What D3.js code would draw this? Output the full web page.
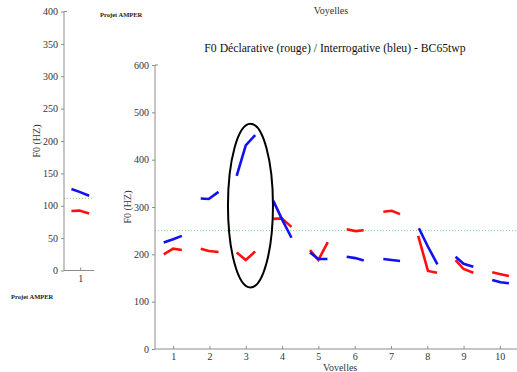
<!DOCTYPE html>
<html>
<head>
<meta charset="utf-8">
<script src="https://cdn.jsdelivr.net/npm/d3@7"></script>
<style>
  html, body { margin: 0; padding: 0; background: #fff; }
  svg { display: block; }
  svg text { font-family: "Liberation Serif", "Times New Roman", "DejaVu Serif", serif; }
</style>
</head>
<body>
<div id="chart"></div>
<script>
// F0 per vowel: each segment is [position, Hz]
const vowelTicks = [1, 2, 3, 4, 5, 6, 7, 8, 9, 10];
const mainYTicks = [0, 100, 200, 300, 400, 500, 600];

const declarative = [
  [[0.74, 200], [1.0, 212], [1.24, 209]],
  [[1.76, 212], [1.98, 207], [2.25, 205]],
  [[2.75, 204], [3.0, 188], [3.26, 206]],
  [[3.76, 275], [3.99, 276], [4.26, 258]],
  [[4.77, 209], [5.0, 188], [5.26, 226]],
  [[5.78, 253], [6.02, 249], [6.25, 251]],
  [[6.79, 290], [7.02, 292], [7.25, 285]],
  [[7.75, 239], [8.02, 165], [8.27, 161]],
  [[8.78, 188], [9.0, 169], [9.27, 161]],
  [[9.79, 162], [10.02, 158], [10.25, 154]],
];

const interrogative = [
  [[0.74, 225], [1.0, 232], [1.24, 239]],
  [[1.76, 318], [1.98, 317], [2.25, 332]],
  [[2.75, 366], [3.0, 430], [3.26, 452]],
  [[3.76, 313], [4.0, 274], [4.26, 235]],
  [[4.77, 204], [5.0, 190], [5.25, 190]],
  [[5.78, 195], [6.02, 192], [6.25, 187]],
  [[6.79, 190], [7.02, 188], [7.25, 186]],
  [[7.77, 255], [8.02, 216], [8.28, 179]],
  [[8.78, 195], [9.0, 180], [9.27, 174]],
  [[9.79, 146], [10.02, 141], [10.25, 139]],
];

const mainReference = 250;
// highlighted vowel: centre [position, Hz], radii [positions, Hz]
const highlight = { cx: 3.13, cy: 303, rx: 0.62, ry: 173 };

// small panel (speaker reference)
const sideTicksX = [1];
const sideYTicks = [0, 50, 100, 150, 200, 250, 300, 350, 400];
const sideDeclarative = [[0.73, 92], [0.98, 92.5], [1.28, 88]];
const sideInterrogative = [[0.73, 126], [1.0, 121], [1.28, 115.5]];
const sideReference = 111.5;

const W = 517, H = 372;
const serif = '"Liberation Serif", "Times New Roman", "DejaVu Serif", serif';
const axisColor = '#8c8c8c';
const labelColor = '#333';
const red = '#ff1010';
const blue = '#1010f0';
const green = '#7ad97a';

const svg = d3.select('#chart').append('svg')
  .attr('width', W).attr('height', H)
  .attr('viewBox', `0 0 ${W} ${H}`)
  .attr('font-family', serif);

const line = (x, y) => d3.line().x((d) => x(d[0])).y((d) => y(d[1]));

function drawPanel({ x, y, xTicks, yTicks, red: redSegs, blue: blueSegs, ref, labelX }) {
  const [x0, x1] = x.range();
  const [y0, y1] = y.range();

  // reference line
  svg.append('line')
    .attr('x1', x0).attr('x2', x1)
    .attr('y1', y(ref)).attr('y2', y(ref))
    .attr('stroke', green).attr('stroke-width', 1)
    .attr('stroke-dasharray', '1,2');

  // y axis
  const yAxis = svg.append('g')
    .attr('transform', `translate(${x0},0)`)
    .call(d3.axisLeft(y).tickValues(yTicks).tickSize(3).tickPadding(3).tickFormat(d3.format('d')));
  yAxis.attr('font-family', serif);
  yAxis.select('.domain').attr('stroke', axisColor).attr('d', `M0,${y0}V${y1}H3`);
  yAxis.selectAll('line').attr('stroke', axisColor);
  yAxis.selectAll('text').attr('fill', labelColor).attr('font-size', 10);

  // x axis (ticks pointing inward)
  const xAxis = svg.append('g')
    .attr('transform', `translate(0,${y0})`)
    .call(d3.axisBottom(x).tickValues(xTicks).tickSize(-3).tickPadding(4).tickFormat(d3.format('d')));
  xAxis.attr('font-family', serif);
  xAxis.select('.domain').attr('stroke', axisColor).attr('d', `M${x0},0H${x1}`);
  xAxis.selectAll('line').attr('stroke', axisColor);
  xAxis.selectAll('text').attr('fill', labelColor).attr('font-size', 10);

  svg.append('text')
    .attr('transform', `translate(${labelX},${(y0 + y1) / 2}) rotate(-90)`)
    .attr('text-anchor', 'middle')
    .attr('fill', labelColor)
    .attr('font-size', 10)
    .text('F0 (HZ)');

  const gen = line(x, y);
  redSegs.forEach((seg) => {
    svg.append('path').datum(seg)
      .attr('d', gen).attr('fill', 'none')
      .attr('stroke', red).attr('stroke-width', 2.6);
  });
  blueSegs.forEach((seg) => {
    svg.append('path').datum(seg)
      .attr('d', gen).attr('fill', 'none')
      .attr('stroke', blue).attr('stroke-width', 2.6);
  });
}

/* Side panel */
const xSide = d3.scaleLinear().domain([0.5, 1.43]).range([64, 94]);
const ySide = d3.scaleLinear().domain([0, 400]).range([270.5, 11.5]);
drawPanel({
  x: xSide, y: ySide, xTicks: sideTicksX, yTicks: sideYTicks,
  red: [sideDeclarative], blue: [sideInterrogative], ref: sideReference, labelX: 40,
});

/* Main panel */
const xMain = d3.scaleLinear().domain([0.5, 10.5]).range([155, 518]);
const yMain = d3.scaleLinear().domain([0, 600]).range([349, 65]);
drawPanel({
  x: xMain, y: yMain, xTicks: vowelTicks, yTicks: mainYTicks,
  red: declarative, blue: interrogative, ref: mainReference, labelX: 131,
});

svg.append('ellipse')
  .attr('cx', xMain(highlight.cx))
  .attr('cy', yMain(highlight.cy))
  .attr('rx', xMain(highlight.cx + highlight.rx) - xMain(highlight.cx))
  .attr('ry', yMain(highlight.cy) - yMain(highlight.cy + highlight.ry))
  .attr('fill', 'none')
  .attr('stroke', '#000')
  .attr('stroke-width', 2);

/* Texts */
svg.append('text')
  .attr('x', 331).attr('y', 14)
  .attr('text-anchor', 'middle').attr('font-size', 10).attr('fill', labelColor)
  .text('Voyelles');

svg.append('text')
  .attr('x', 335).attr('y', 52)
  .attr('text-anchor', 'middle').attr('font-size', 11.7).attr('fill', '#111')
  .text('F0 Déclarative (rouge) / Interrogative (bleu) - BC65twp');

svg.append('text')
  .attr('x', xMain(5.6)).attr('y', 371)
  .attr('text-anchor', 'middle').attr('font-size', 10).attr('fill', labelColor)
  .text('Vovelles');

svg.append('text')
  .attr('x', 100).attr('y', 17)
  .attr('font-size', 6.5).attr('font-weight', 700).attr('fill', '#222')
  .text('Projet AMPER');

svg.append('text')
  .attr('x', 11).attr('y', 299)
  .attr('font-size', 6.5).attr('font-weight', 700).attr('fill', '#222')
  .text('Projet AMPER');
</script>
</body>
</html>
